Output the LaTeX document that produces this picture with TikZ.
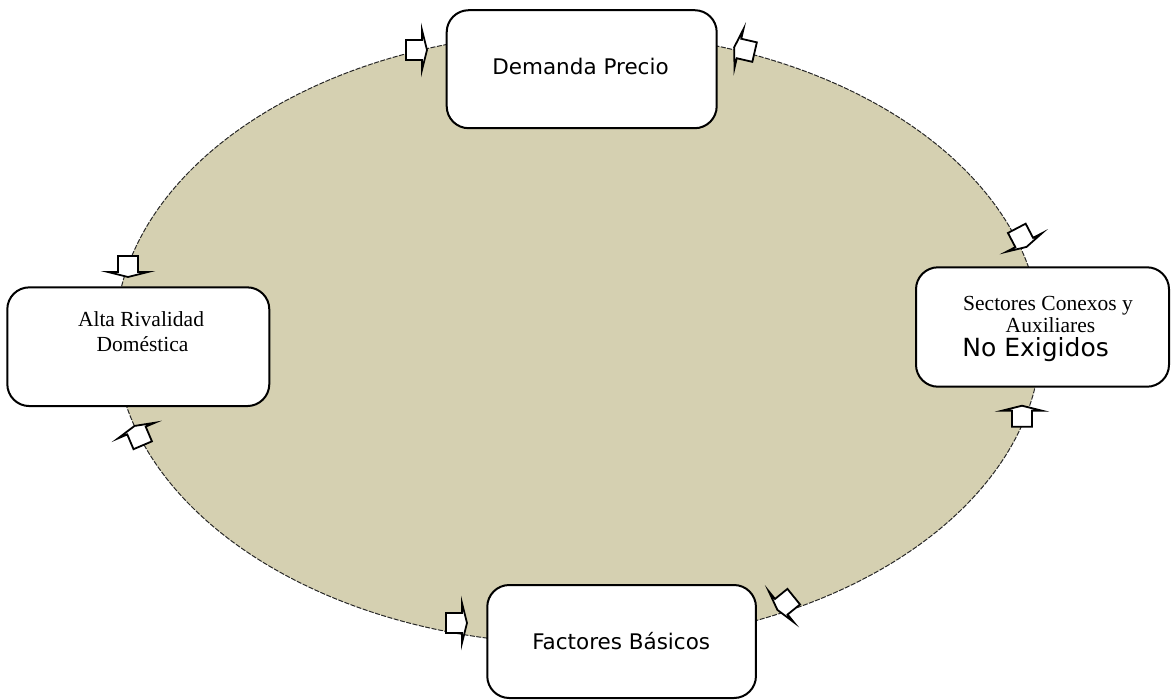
\documentclass[tikz,border=0pt]{standalone}
\usepackage{fontspec}
\setmainfont{Liberation Serif}
\newfontfamily\sansv{DejaVu Sans}
\definecolor{tanfill}{RGB}{213,208,177}
\definecolor{edgegray}{RGB}{40,40,40}
\tikzset{
  box/.style={draw=black, fill=white, line width=2pt, rounded corners=22pt, inner sep=0pt},
  sanstxt/.style={font=\sansv\fontsize{21.5}{25}\selectfont, anchor=base, inner sep=0pt},
  sansbig/.style={font=\sansv\fontsize{25}{28}\selectfont, anchor=base, inner sep=0pt},
  seriftxt/.style={font=\fontsize{21.5}{25}\selectfont, anchor=base, inner sep=0pt},
  blockarrow/.pic={
    \draw[black, fill=white, line width=1.8pt, line join=miter]
      (-8,-10) -- (8,-10) -- (8,-20) -- (13,0) -- (8,20) -- (8,10) -- (-8,10) -- cycle;
  }
}
\begin{document}
\begin{tikzpicture}[x=1pt, y=-1pt]
\useasboundingbox (0,0) rectangle (1172,699);
% ellipse
\draw[fill=tanfill, draw=edgegray, line width=1pt, dash pattern=on 5pt off 1.5pt]
  (578,338) ellipse [x radius=463pt, y radius=306pt];
% arrows on the ellipse
\pic[rotate=0]    at (414,50)      {blockarrow};
\pic[rotate=167]  at (746.8,50.3)  {blockarrow};
\pic[rotate=-62.4] at (1020.5,235.4) {blockarrow};
\pic[rotate=90]   at (1022,418.7)  {blockarrow};
\pic[rotate=-90]  at (128,264)     {blockarrow};
\pic[rotate=113]  at (139.6,437.9) {blockarrow};
\pic[rotate=0]    at (454,623)     {blockarrow};
\pic[rotate=-141] at (787.5,601.7) {blockarrow};
% boxes
\node[box, minimum width=270pt, minimum height=118pt] (demanda) at (581.7,69.2) {};
\node[box, minimum width=253pt, minimum height=119.4pt] (sectores) at (1042.5,327) {};
\node[box, minimum width=262pt, minimum height=118.7pt] (alta) at (138.3,346.7) {};
\node[box, minimum width=268.7pt, minimum height=113pt] (factores) at (621.6,641.5) {};
% texts
\node[sanstxt] (tdemanda) at (580.5,74) {Demanda Precio};
\node[sanstxt] (tfactores) at (621.2,649) {Factores Básicos};
\node[seriftxt] (talta1) at (141,326.7) {Alta Rivalidad};
\node[seriftxt] (talta2) at (142.5,351.7) {Doméstica};
\node[seriftxt] (tsect1) at (1048,310) {Sectores Conexos y};
\node[seriftxt] (tsect2) at (1050.5,332.7) {Auxiliares};
\node[sansbig] (tsect3) at (1035.6,356.5) {No Exigidos};
\end{tikzpicture}
\end{document}
